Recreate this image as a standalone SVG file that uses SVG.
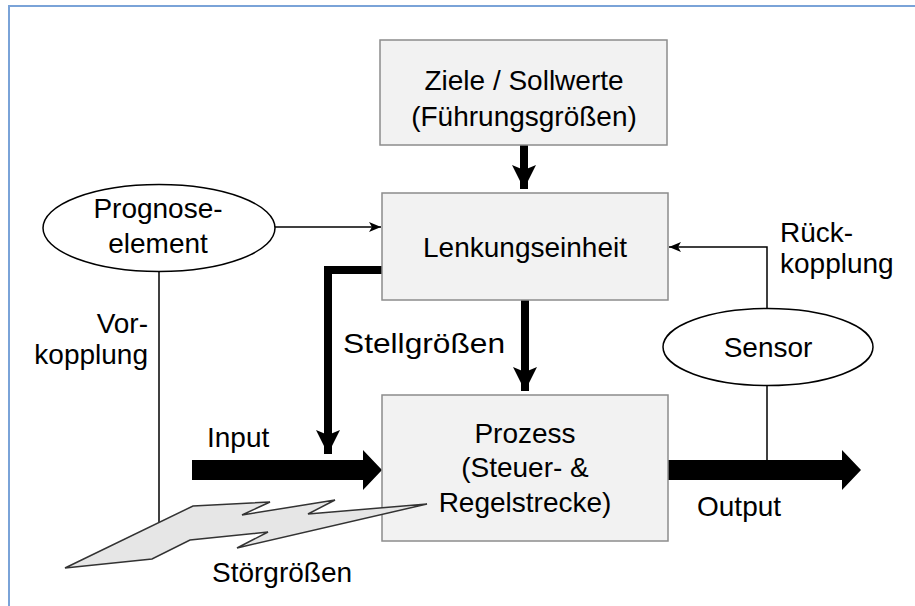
<svg xmlns="http://www.w3.org/2000/svg" width="915" height="606" viewBox="0 0 915 606">
  <style>
    text { font-family: "Liberation Sans", Arial, sans-serif; font-size: 28px; fill: #000; }
    .mid { text-anchor: middle; }
    .end { text-anchor: end; }
    .box { fill: #f2f2f2; stroke: #8c8c8c; stroke-width: 1.5; }
    .ell { fill: #fff; stroke: #000; stroke-width: 1.5; }
    .thin { fill: none; stroke: #000; stroke-width: 1.5; }
    .thick { fill: none; stroke: #000; stroke-width: 8; }
    .block { fill: #000; stroke: none; }
  </style>
  <defs>
    <marker id="headThin" markerUnits="userSpaceOnUse" markerWidth="14" markerHeight="12" refX="13" refY="6" orient="auto">
      <path d="M1,1 L13,6 L1,11 L4,6 Z" fill="#000"/>
    </marker>
    <marker id="headThick" markerUnits="userSpaceOnUse" markerWidth="26" markerHeight="26" refX="24" refY="12" orient="auto">
      <path d="M0,0 L24,12 L0,24 L5,12 Z" fill="#000"/>
    </marker>
  </defs>

  <rect width="915" height="606" fill="#fff"/>
  <!-- frame -->
  <path d="M9,606 L9,6 L915,6" fill="none" stroke="#7aa3d8" stroke-width="2"/>

  <!-- connectors -->
  <g id="connectors">
    <path class="thick" d="M524,145 L524,189" marker-end="url(#headThick)"/>
    <path class="thick" d="M525,300 L525,391" marker-end="url(#headThick)"/>
    <path class="thick" d="M382,270 L328,270 L328,454" marker-end="url(#headThick)"/>
    <path class="thin" d="M275,227 L381,227" marker-end="url(#headThin)"/>
    <path class="thin" d="M159,272 L159,522"/>
    <path class="thin" d="M767,308 L767,247 L669,247" marker-end="url(#headThin)"/>
    <path class="thin" d="M767,385 L767,460"/>
    <path id="input" class="block" d="M192,460 L363,460 L363,450 L382,470 L363,490 L363,480 L192,480 Z"/>
    <path id="output" class="block" d="M668,460 L842,460 L842,450 L861,470 L842,490 L842,480 L668,480 Z"/>
  </g>

  <g id="ziele">
    <rect class="box" x="380" y="40" width="287" height="105"/>
    <text class="mid" x="524" y="90">Ziele / Sollwerte</text>
    <text class="mid" x="524" y="126">(Führungsgrößen)</text>
  </g>

  <g id="lenkung">
    <rect class="box" x="382" y="193" width="286" height="107"/>
    <text class="mid" x="525" y="257">Lenkungseinheit</text>
  </g>

  <g id="prozess">
    <rect class="box" x="382" y="395" width="286" height="146"/>
    <text class="mid" x="525" y="443">Prozess</text>
    <text class="mid" x="525" y="477">(Steuer- &amp;</text>
    <text class="mid" x="525" y="512">Regelstrecke)</text>
  </g>

  <g id="prognose">
    <ellipse class="ell" cx="159" cy="228" rx="116" ry="43.5"/>
    <text class="mid" x="158" y="218">Prognose-</text>
    <text class="mid" x="158" y="253">element</text>
  </g>

  <g id="sensor">
    <ellipse class="ell" cx="768" cy="347" rx="105" ry="38.5"/>
    <text class="mid" x="768" y="357">Sensor</text>
  </g>

  <g id="stoergroessen">
    <path d="M193,506 L270,502 L242,515 L335,500 L308,514 L427,504 L237,548 L268,532 L190,540 L152,559 L65,568 Z" fill="#e6e6e6" stroke="#333" stroke-width="1.5" stroke-linejoin="miter"/>
    <text x="212" y="582">Störgrößen</text>
  </g>

  <!-- labels -->
  <g id="labels">
    <text class="end" x="148" y="333">Vor-</text>
    <text class="end" x="148" y="364">kopplung</text>
    <text x="343" y="353" font-size="31" textLength="162" lengthAdjust="spacingAndGlyphs">Stellgrößen</text>
    <text x="207" y="447">Input</text>
    <text x="697" y="516">Output</text>
    <text x="780" y="242">Rück-</text>
    <text x="780" y="273">kopplung</text>
  </g>
</svg>
